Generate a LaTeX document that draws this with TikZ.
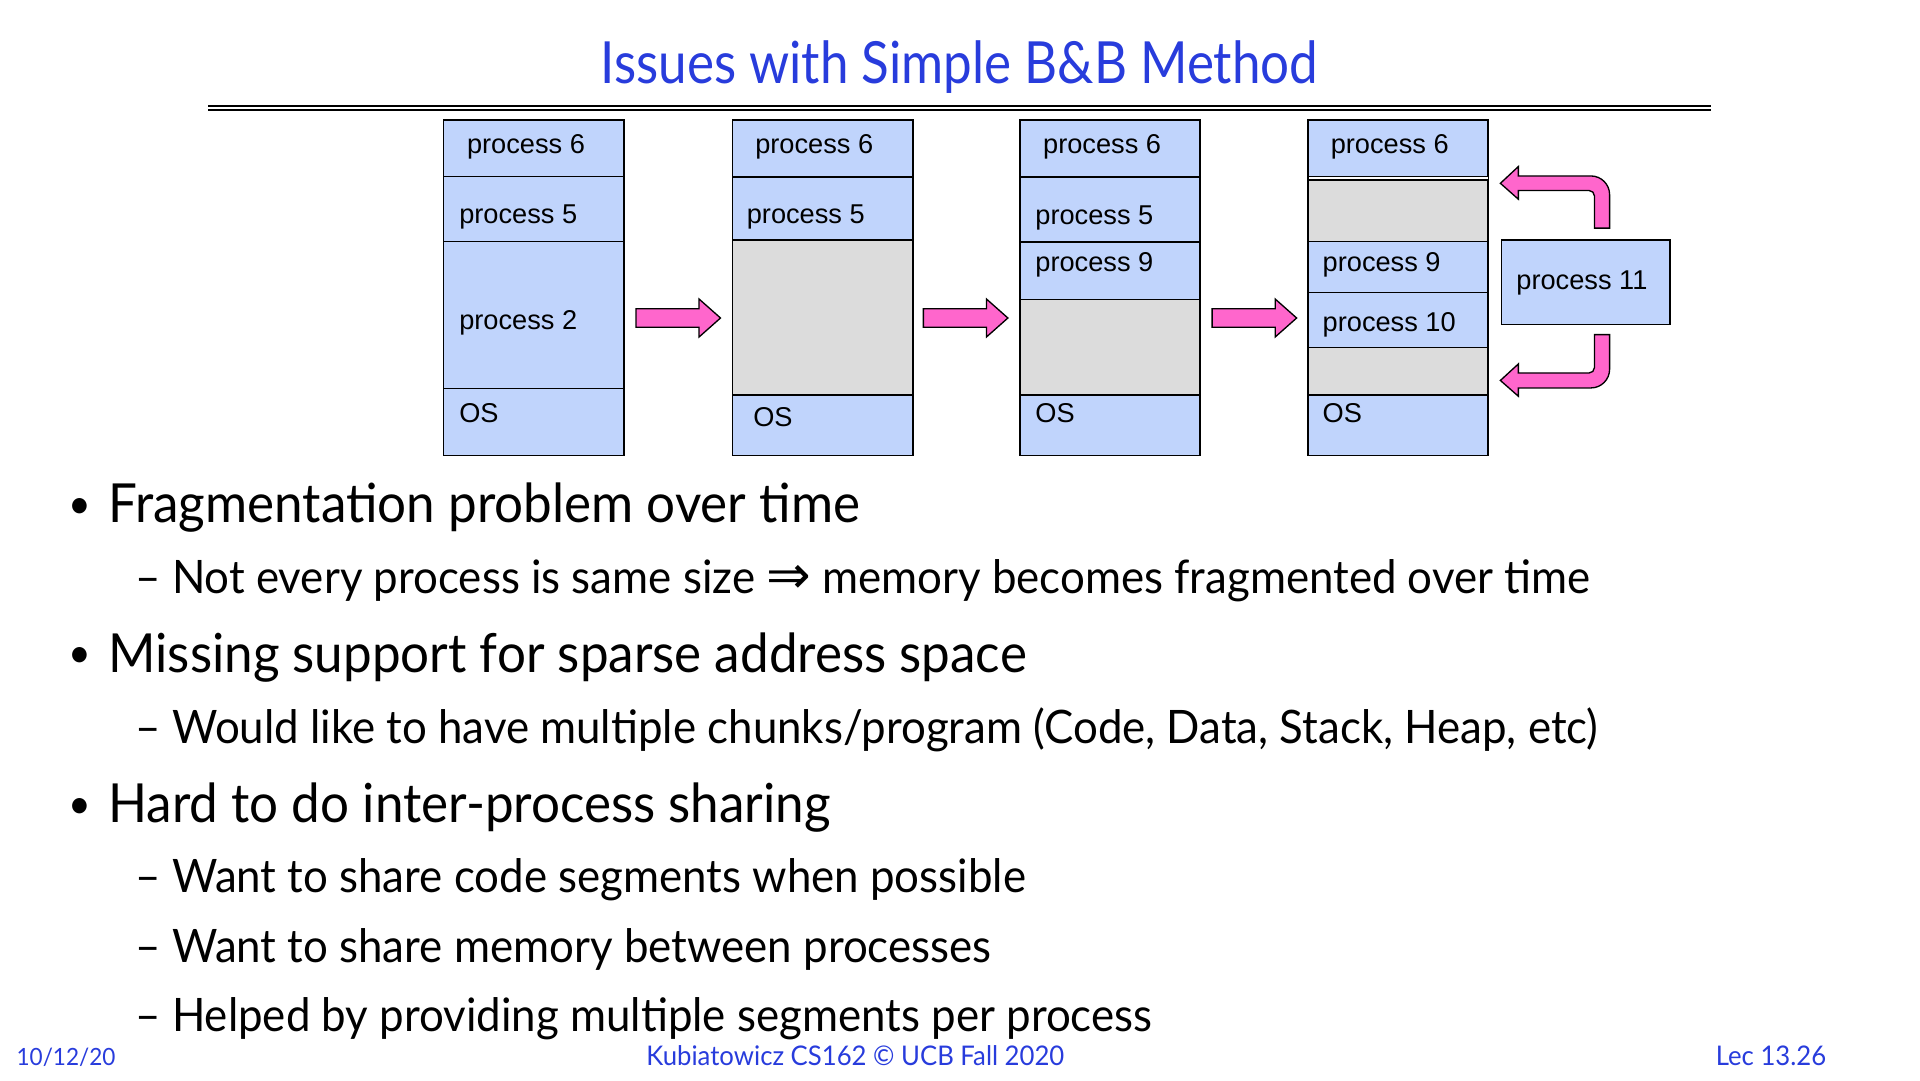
\documentclass[tikz,border=0pt]{standalone}
\usepackage{fontspec}
\setmainfont{Lato}[FakeStretch=0.95]
\newfontfamily\titlefont{Lato}[FakeStretch=0.88]
\newfontfamily\boxfont{Liberation Sans}
\newfontfamily\symfont{DejaVu Sans}
\usepackage{tikz}

\definecolor{slideblue}{RGB}{40,60,220}
\definecolor{memblue}{RGB}{192,212,252}
\definecolor{holegray}{RGB}{220,220,220}
\definecolor{arrowpink}{RGB}{255,102,204}

\begin{document}
\begin{tikzpicture}[x=0.9184pt, y=-0.9184pt, line width=1.1pt,
  memlabel/.style={anchor=base west, inner sep=0pt, font=\boxfont\fontsize{20.4pt}{24pt}\selectfont},
  bigitem/.style={anchor=base west, inner sep=0pt, font=\fontsize{40.4pt}{48pt}\selectfont},
  bulletdot/.style={anchor=base west, inner sep=0pt, font=\fontsize{31pt}{36pt}\selectfont},
  subitem/.style={anchor=base west, inner sep=0pt, font=\fontsize{34.6pt}{42pt}\selectfont},
  footer/.style={inner sep=0pt, text=slideblue, font=\fontsize{20.3pt}{24pt}\selectfont},
  hole/.style={fill=holegray},
  used/.style={fill=memblue},
  bigarrow/.style={fill=arrowpink, line width=1pt, line join=miter}]

\useasboundingbox (0,0) rectangle (1568,882);

% title and rule
\node[anchor=base, inner sep=0pt, text=slideblue, font=\titlefont\fontsize{43.6pt}{52pt}\selectfont]
  (title) at (783.5,68) {Issues with Simple B\&B Method};
\draw[line width=1.5pt] (170,86.6) -- (1397,86.6);
\draw[line width=1.5pt] (170,90.2) -- (1397,90.2);

% memory snapshots
\filldraw[used] (362,98) rectangle (510,144.2);
\filldraw[used] (362,144.2) rectangle (510,197.2);
\filldraw[used] (362,197.2) rectangle (510,317.1);
\filldraw[used] (362,317.1) rectangle (510,372);

\filldraw[used] (598,98) rectangle (745,144.7);
\filldraw[used] (598,144.7) rectangle (745,195.9);
\filldraw[hole] (598,195.9) rectangle (745,322.5);
\filldraw[used] (598,322.5) rectangle (745,372);

\filldraw[used] (833,98) rectangle (980,144.5);
\filldraw[used] (833,144.5) rectangle (980,197.8);
\filldraw[used] (833,197.8) rectangle (980,244.8);
\filldraw[hole] (833,244.8) rectangle (980,322.5);
\filldraw[used] (833,322.5) rectangle (980,372);

\filldraw[used] (1068,98) rectangle (1215,144.2);
\filldraw[hole] (1068,146.9) rectangle (1215,197.2);
\filldraw[used] (1068,197.2) rectangle (1215,238.8);
\filldraw[used] (1068,238.8) rectangle (1215,283.6);
\filldraw[hole] (1068,283.6) rectangle (1215,322.5);
\filldraw[used] (1068,322.5) rectangle (1215,372);

\foreach \x in {362,598,833,1068}
  \draw (\x,98) rectangle ++(147.5,274);

\node[memlabel] (a6) at (380.8,125.2) {process 6};
\node[memlabel] (a5) at (374.5,182.3) {process 5};
\node[memlabel] (a2) at (374.5,269.2) {process 2};
\node[memlabel] (aos) at (374.5,345.3) {OS};

\node[memlabel] (b6) at (616.2,125.2) {process 6};
\node[memlabel] (b5) at (609.3,182.3) {process 5};
\node[memlabel] (bos) at (614.6,348) {OS};

\node[memlabel] (c6) at (851.3,125.2) {process 6};
\node[memlabel] (c5) at (845,183.6) {process 5};
\node[memlabel] (c9) at (845,221.7) {process 9};
\node[memlabel] (cos) at (845,345.3) {OS};

\node[memlabel] (d6) at (1086.2,125.2) {process 6};
\node[memlabel] (d9) at (1079.6,221.7) {process 9};
\node[memlabel] (d10) at (1079.6,270.6) {process 10};
\node[memlabel] (dos) at (1079.6,345.3) {OS};

\filldraw[used] (1226,195.9) rectangle (1363.9,265.2);
\node[memlabel] (p11) at (1237.8,236.6) {process 11};

% arrows between snapshots
\foreach \x in {519.4,754.1,989.9}
  \filldraw[bigarrow] (\x,252.1) -- ++(51.5,0) -- ++(0,-7.9) -- ++(17.5,15.5)
    -- ++(-17.5,15.5) -- ++(0,-7.9) -- (\x,267.3) -- cycle;

% process 11 going into a hole
\filldraw[bigarrow] (1302.1,186.3) -- (1314.5,186.3) [rounded corners=14pt] -- (1314.5,143.7)
  [sharp corners] -- (1240,143.7) -- (1240,136) -- (1225.3,149.7) -- (1240,162.7)
  -- (1240,155.6) [rounded corners=4pt] -- (1302.1,155.6) [sharp corners] -- cycle;
\filldraw[bigarrow] (1302.1,273.3) -- (1314.5,273.3) [rounded corners=14pt] -- (1314.5,316.8)
  [sharp corners] -- (1240,316.8) -- (1240,323.6) -- (1225.3,310.7) -- (1240,297.2)
  -- (1240,304.6) [rounded corners=4pt] -- (1302.1,304.6) [sharp corners] -- cycle;

% bullet list
\node[bulletdot] (dot1) at (55,423.5) {\textbullet};
\node[bigitem] (item1) at (88,427) {Fragmentation problem over time};
\node[subitem] (sub1) at (110,485) {– Not every process is same size {\symfont\fontsize{40pt}{44pt}\selectfont ⇒} memory becomes fragmented over time};
\node[bulletdot] (dot2) at (55,545.5) {\textbullet};
\node[bigitem] (item2) at (88,549) {Missing support for sparse address space};
\node[subitem] (sub2) at (110,607) {– Would like to have multiple chunks/program (Code, Data, Stack, Heap, etc)};
\node[bulletdot] (dot3) at (55,668.5) {\textbullet};
\node[bigitem] (item3) at (88,672) {Hard to do inter-process sharing};
\node[subitem] (sub3) at (110,729) {– Want to share code segments when possible};
\node[subitem] (sub4) at (110,786) {– Want to share memory between processes};
\node[subitem] (sub5) at (110,842) {– Helped by providing multiple segments per process};

% footer
\node[footer, anchor=base west, font=\fontsize{17.8pt}{21pt}\selectfont] (date) at (13,870) {10/12/20};
\node[footer, anchor=base] (course) at (698.5,870) {Kubiatowicz CS162 © UCB Fall 2020};
\node[footer, anchor=base east] (lec) at (1492,870) {Lec 13.26};

\end{tikzpicture}
\end{document}
